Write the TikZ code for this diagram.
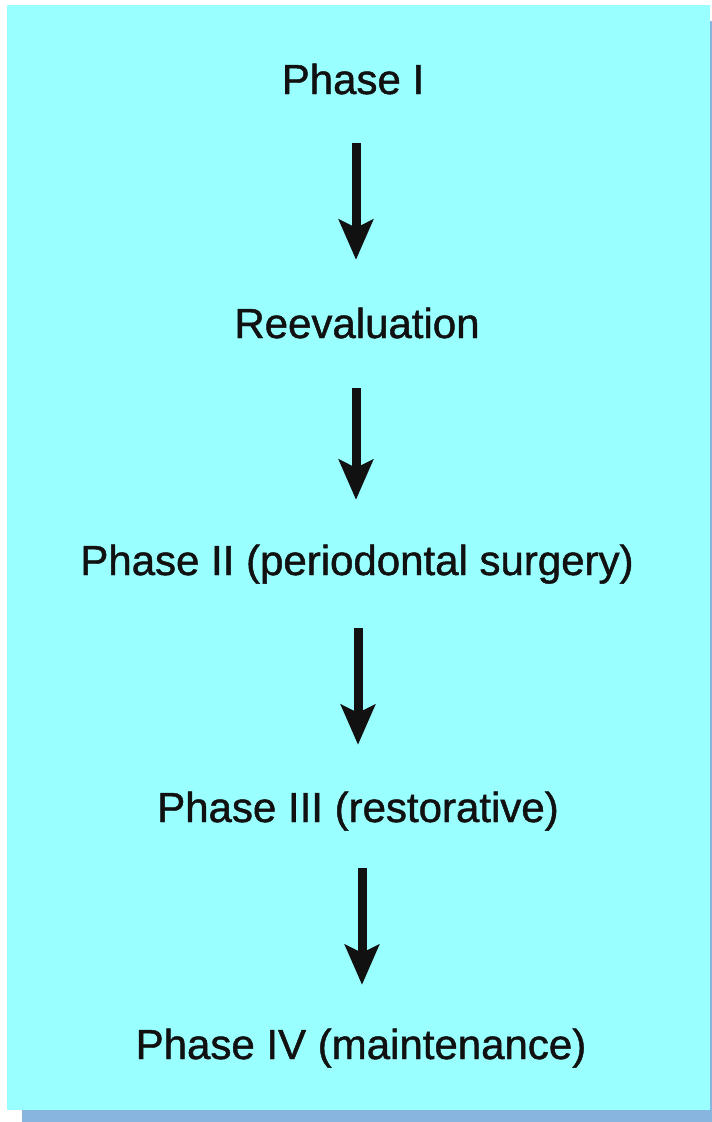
\documentclass[tikz,border=0pt]{standalone}
\usepackage{fontspec}
\setmainfont{Liberation Sans}
\newfontfamily\stagefont{Liberation Sans}[FakeBold=1.1]
\usetikzlibrary{arrows.meta}
\definecolor{panel}{HTML}{99FFFF}
\definecolor{panelshadow}{HTML}{88B4E0}
\definecolor{ink}{HTML}{111111}
\tikzset{
  stage/.style={anchor=base, inner sep=0pt, text height=30pt, text depth=9pt,
    text=ink, font=\stagefont\fontsize{42}{48}\selectfont},
  flow/.style={draw=ink, line width=9pt,
    -{Stealth[length=40pt, width=34pt, inset=8pt]}}
}
\begin{document}
\begin{tikzpicture}[x=1pt, y=-1pt]
  \useasboundingbox (0,0) rectangle (712,1122);
  % panel with its drop shadow
  \fill[panelshadow] (22,21) rectangle (712,1122);
  \fill[panel] (7,5) rectangle (710,1110);

  % treatment sequence
  \node[stage] (p1) at (353,94)  {Phase I};
  \node[stage] (p2) at (357,338) {Reevaluation};
  \node[stage] (p3) at (357,575) {Phase II (periodontal surgery)};
  \node[stage] (p4) at (358,822) {Phase III (restorative)};
  \node[stage] (p5) at (361,1059) {Phase IV (maintenance)};

  \draw[flow] ([xshift=3pt, yshift=-40pt]p1.south) -- ([xshift=-1pt, yshift=48pt]p2.north);
  \draw[flow] ([xshift=-1pt, yshift=-41pt]p2.south) -- ([xshift=-1pt, yshift=45pt]p3.north);
  \draw[flow] ([xshift=1pt, yshift=-44pt]p3.south) -- ([xshift=0pt, yshift=47pt]p4.north);
  \draw[flow] ([xshift=4pt, yshift=-37pt]p4.south) -- ([xshift=1pt, yshift=44pt]p5.north);
\end{tikzpicture}
\end{document}
